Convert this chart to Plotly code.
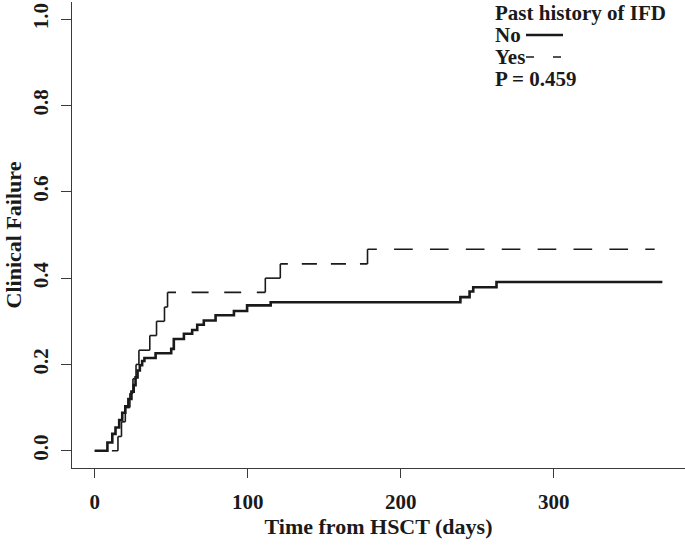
import plotly.graph_objects as go

# ---------------- data ----------------
# Past history of IFD = No  (cumulative incidence after each step)
no_time = [0, 8.3, 11.5, 13.6, 16.0, 18.0, 20.0, 22.0, 24.0, 25.5, 26.7, 28.0, 29.5,
           31.0, 32.5, 39.8, 50.0, 51.7, 58.3, 63.7, 67.0, 71.3, 79.0, 91.0, 99.6,
           115.0, 239.0, 245.0, 247.4, 262.6]
no_cif = [0, 0.019, 0.039, 0.054, 0.071, 0.088, 0.103, 0.120, 0.137, 0.152, 0.170, 0.186, 0.198,
          0.208, 0.215, 0.226, 0.236, 0.259, 0.271, 0.280, 0.292, 0.302, 0.314, 0.324, 0.337,
          0.344, 0.356, 0.369, 0.379, 0.391]
no_end = 371

# Past history of IFD = Yes
yes_time = [0, 15.2, 17.5, 20.0, 23.0, 25.0, 27.0, 28.9, 36.0, 40.4, 45.6, 47.6, 111.5, 121.3, 178.3]
yes_cif = [0, 0.033, 0.067, 0.100, 0.133, 0.167, 0.200, 0.233, 0.267, 0.300, 0.333, 0.367, 0.400, 0.433, 0.467]
yes_end = 366

x_ticks = [0, 100, 200, 300]
y_ticks = [0.0, 0.2, 0.4, 0.6, 0.8, 1.0]
y_tick_labels = ["0.0", "0.2", "0.4", "0.6", "0.8", "1.0"]

legend_title = "Past history of IFD"
legend_labels = ["No", "Yes"]
p_text = "P = 0.459"

# ---------------- layout constants ----------------
W, H = 685, 546
ML, MR, MT, MB = 72, 0, 2, 78
x_range = [-14.84, 385.8]
y_range = [-0.04, 1.04]
INK = "#1a1a1a"
AX = "#3a3a3a"
FONT = "Liberation Serif"

fig = go.Figure()

# No curve (thick solid step)
fig.add_trace(go.Scatter(
    x=no_time + [no_end], y=no_cif + [no_cif[-1]],
    mode="lines", line=dict(color=INK, width=2.6, shape="hv"),
    showlegend=False, hoverinfo="skip"))

# Yes curve: vertical rises solid, horizontal runs dashed (dashes aligned to corners)
vx, vy = [], []
for i in range(1, len(yes_time)):
    vx += [yes_time[i], yes_time[i], None]
    vy += [yes_cif[i - 1], yes_cif[i], None]
fig.add_trace(go.Scatter(x=vx, y=vy, mode="lines",
                         line=dict(color=INK, width=1.6),
                         showlegend=False, hoverinfo="skip"))

px_per_day = (W - ML - MR) / (x_range[1] - x_range[0])
for i in range(len(yes_time)):
    t0 = yes_time[i]
    t1 = yes_time[i + 1] if i + 1 < len(yes_time) else yes_end
    L = (t1 - t0) * px_per_day
    n = round(L / 34)
    if n < 1:
        dash = "solid"
    else:
        period = L / n
        d = 0.52 * period
        g = period - d
        dash = f"{d/2:.2f}px,{g:.2f}px,{d/2:.2f}px,0px"
    fig.add_trace(go.Scatter(x=[t0, t1], y=[yes_cif[i], yes_cif[i]], mode="lines",
                             line=dict(color=INK, width=1.6, dash=dash),
                             showlegend=False, hoverinfo="skip"))

# ---------------- legend (text block, top right) ----------------
def px_to_paper_x(px):
    return (px - ML) / (W - ML - MR)

def px_to_paper_y(py):
    return (H - MB - py) / (H - MB - MT)

leg_font = dict(family=FONT, size=21, color=INK, weight="bold")
rows = [(legend_title, 13), (legend_labels[0], 35), (legend_labels[1], 57), (p_text, 79)]
for txt, py in rows:
    fig.add_annotation(x=px_to_paper_x(493), y=px_to_paper_y(py), xref="paper", yref="paper",
                       text=txt, showarrow=False, xanchor="left", yanchor="middle",
                       font=leg_font)
fig.add_shape(type="line", xref="paper", yref="paper",
              x0=px_to_paper_x(526), x1=px_to_paper_x(563),
              y0=px_to_paper_y(35), y1=px_to_paper_y(35),
              line=dict(color=INK, width=2.6))
fig.add_shape(type="line", xref="paper", yref="paper",
              x0=px_to_paper_x(526), x1=px_to_paper_x(563),
              y0=px_to_paper_y(57), y1=px_to_paper_y(57),
              line=dict(color=INK, width=1.6, dash="8px,19px"))

axis_common = dict(showgrid=False, zeroline=False, showline=True, linecolor=AX, linewidth=1.2,
                   ticks="outside", tickcolor=AX, tickwidth=1.2, mirror=False,
                   tickfont=dict(family=FONT, size=21, color=INK, weight="bold"))

fig.update_layout(
    width=W, height=H,
    margin=dict(l=ML, r=MR, t=MT, b=MB, pad=0),
    paper_bgcolor="white", plot_bgcolor="white",
    xaxis=dict(range=x_range, tickvals=x_ticks, ticklen=9, ticklabelstandoff=6,
               title=dict(text="Time from HSCT (days)", standoff=2,
                          font=dict(family=FONT, size=22, color=INK, weight="bold")),
               **axis_common),
    yaxis=dict(range=y_range, tickvals=y_ticks, ticktext=y_tick_labels, ticklen=10,
               tickangle=-90, ticklabelstandoff=5,
               title=dict(text="Clinical Failure", standoff=0,
                          font=dict(family=FONT, size=22, color=INK, weight="bold")),
               **axis_common),
)

fig.write_html("out.html", config={"displayModeBar": False},
               post_script="document.body.style.margin='0px';")
